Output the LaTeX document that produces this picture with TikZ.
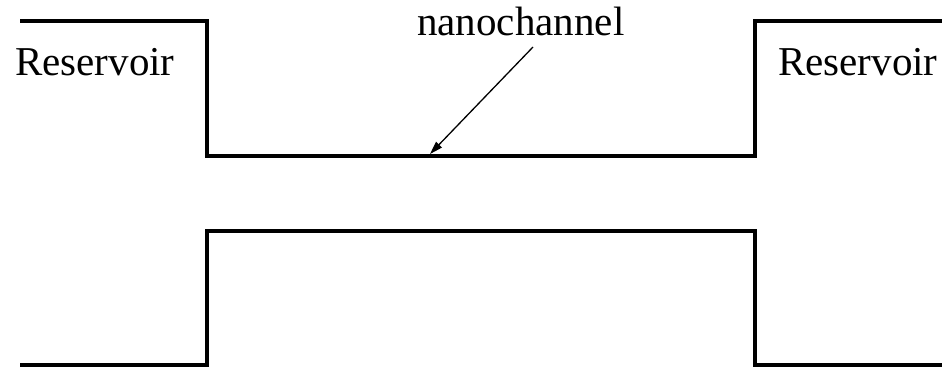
\documentclass[tikz,border=0pt]{standalone}
\usepackage{fontspec}
\setmainfont{Liberation Serif}
\usetikzlibrary{arrows.meta}
\begin{document}
\begin{tikzpicture}[x=1pt,y=-1pt,
  wall/.style={line width=4pt,line join=miter},
  lbl/.style={font=\fontsize{41}{45}\selectfont,inner sep=0pt,anchor=base west},
  pointer/.style={line width=1.3pt,-{Triangle[length=13pt,width=8pt]}}]
\useasboundingbox (0,0) rectangle (942,368);
% upper wall
\coordinate (u1) at (20,21);
\coordinate (u2) at (207,21);
\coordinate (u3) at (207,156);
\coordinate (u4) at (755,156);
\coordinate (u5) at (755,21);
\coordinate (u6) at (945,21);
\draw[wall] (u1) -- (u2) -- (u3) -- (u4) -- (u5) -- (u6);
% lower wall
\coordinate (l1) at (20,365);
\coordinate (l2) at (207,365);
\coordinate (l3) at (207,231);
\coordinate (l4) at (755,231);
\coordinate (l5) at (755,365);
\coordinate (l6) at (945,365);
\draw[wall] (l1) -- (l2) -- (l3) -- (l4) -- (l5) -- (l6);
% labels
\node[lbl] (resL) at (15,75) {Reservoir};
\node[lbl] (resR) at (778,75) {Reservoir};
\node[lbl] (nano) at (417,35) {nanochannel};
\coordinate (tip) at (430,154);
\coordinate (tail) at (533,47);
\draw[pointer] (tail) -- (tip);
\end{tikzpicture}
\end{document}
